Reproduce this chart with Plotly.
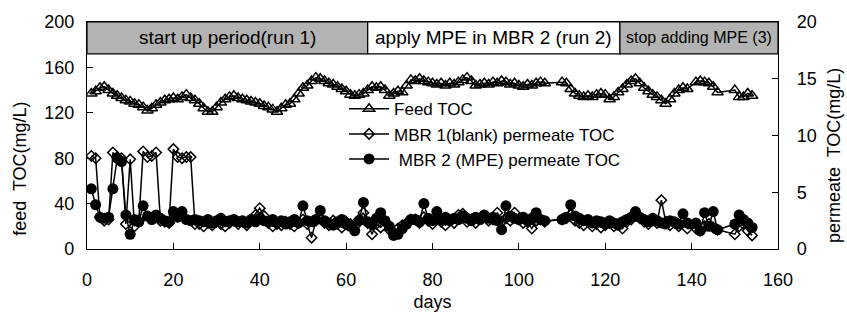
import plotly.graph_objects as go

# sampling days
days = list(range(1, 107)) + list(range(110, 140)) + list(range(141, 147)) + list(range(150, 155))

feed_toc = [
    137, 139, 142, 143, 140, 137, 135, 133, 131, 130,
    128, 127, 125, 122, 124, 127, 129, 131, 132, 133,
    132, 134, 136, 133, 131, 128, 124, 121, 121, 125,
    129, 132, 134, 135, 133, 132, 131, 130, 129, 128,
    126, 125, 123, 121, 124, 127, 128, 132, 137, 142,
    144, 148, 151, 150, 148, 146, 145, 143, 141, 139,
    136, 135, 136, 137, 140, 143, 142, 143, 140, 135,
    137, 139, 138, 144, 149, 148, 150, 148, 147, 146,
    145, 146, 144, 146, 145, 147, 149, 151, 148, 144,
    145, 146, 145, 147, 146, 148, 147, 145, 146, 144,
    143, 145, 144, 146, 147, 146,
    147, 146, 141, 137, 135, 134, 135, 134, 136, 137,
    136, 132, 134, 138, 141, 145, 148, 150, 146, 142,
    139, 136, 134, 131, 128, 132, 137, 140, 142, 141,
    147, 148, 147, 146, 143, 138,
    140, 134, 134, 137, 135,
]

mbr1_toc = [
    8.2, 8.0, 2.8, 2.5, 2.6, 8.5, 8.1, 8.0, 2.2, 7.9,
    2.0, 2.5, 8.6, 8.1, 8.2, 8.5, 2.5, 2.4, 2.3, 8.8,
    8.1, 8.0, 8.1, 8.1, 2.2,
    2.2, 2.0, 2.3, 2.1, 2.4, 2.2, 2.0, 2.3, 2.5, 2.2,
    2.4, 2.1, 2.6, 3.0, 3.6, 2.9, 2.3, 2.0, 2.2, 2.1,
    2.4, 2.2, 2.0, 2.3, 2.6, 2.2, 1.0, 2.5, 2.7, 2.3,
    2.1, 2.5, 2.2, 1.9, 2.4, 2.2, 2.0, 2.6, 3.2, 2.3,
    1.3, 2.2, 1.9, 2.4, 1.7, 1.5, 1.8, 2.1, 2.3, 2.6,
    2.6, 2.3, 2.8, 2.5, 2.2, 2.7, 2.4, 2.1, 2.5, 2.3,
    3.0, 3.1, 2.4, 2.6, 2.3, 2.7, 2.9, 2.5, 2.6, 3.2,
    2.4, 2.7, 2.5, 3.2, 2.6, 2.3, 2.4, 1.8, 2.5, 2.6, 2.4,
    2.6, 2.7, 3.0, 2.5, 2.3, 2.1, 2.4, 2.0, 2.2, 1.9,
    2.1, 2.3, 2.0, 2.2, 1.8, 2.4, 2.6, 2.9, 2.7, 2.4,
    2.2, 2.5, 2.3, 4.3, 2.4, 2.1, 2.3, 2.0, 2.4, 1.8,
    1.8, 1.6, 2.0, 2.2, 1.9, 1.7,
    1.3, 2.0, 2.2, 1.6, 1.2,
]

mbr2_toc = [
    5.3, 3.9, 2.8, 2.7, 2.8, 5.3, 8.0, 7.7, 3.0, 1.3,
    2.6, 2.4, 3.8, 2.9, 2.6, 3.0, 2.7, 2.5, 2.4, 3.3,
    2.8, 3.3, 2.6, 2.5, 2.6,
    2.5, 2.4, 2.6, 2.3, 2.5, 2.7, 2.4, 2.5, 2.6, 2.4,
    2.5, 2.3, 2.6, 2.4, 2.7, 2.5, 2.4, 2.6, 2.3, 2.5,
    2.2, 2.4, 2.6, 2.3, 3.8, 2.5, 2.4, 2.6, 3.4, 2.5,
    2.3, 2.1, 2.4, 2.6, 2.2, 2.0, 1.6, 2.5, 4.1, 2.4,
    2.2, 2.7, 3.2, 2.5, 2.0, 1.2, 1.3, 1.8, 2.2, 2.6,
    2.6, 2.4, 4.0, 2.7, 2.5, 3.3, 2.6, 2.8, 2.5, 2.7,
    2.6, 2.9, 2.7, 2.5, 2.8, 2.6, 3.0, 2.7, 2.8, 2.5,
    1.7, 3.8, 2.9, 2.7, 2.6, 2.8, 2.5, 2.7, 3.2, 2.6, 2.5,
    2.6, 2.8, 3.9, 2.9, 2.7, 2.5, 2.6, 2.3, 2.5, 2.4,
    2.2, 2.5, 2.3, 2.1, 2.4, 2.6, 2.8, 3.3, 2.8, 2.6,
    2.4, 2.7, 2.5, 2.3, 2.2, 2.5, 2.4, 2.2, 3.1, 2.3,
    2.3, 1.6, 3.2, 2.0, 3.3, 1.7,
    2.2, 3.0, 2.6, 2.3, 1.9,
]

# period bands: (start day, end day, label, fill, font size)
periods = [
    (0, 65, "start up period(run 1)", "#b3b3b3", 19),
    (65, 123.4, "apply MPE in MBR 2 (run 2)", "#ffffff", 19),
    (123.4, 160, "stop adding MPE (3)", "#b3b3b3", 16),
]
band_bottom, band_top = 172, 200

x_ticks = [0, 20, 40, 60, 80, 100, 120, 140, 160]
left_ticks = [0, 40, 80, 120, 160, 200]
right_ticks = [0, 5, 10, 15, 20]

FONT = "Liberation Sans, Arial, sans-serif"

fig = go.Figure()
fig.add_trace(go.Scatter(
    x=days, y=feed_toc, name="Feed TOC", mode="lines+markers", legendgroup="a",
    line=dict(color="black", width=1.5),
    marker=dict(symbol="triangle-up-open", size=10, color="black", line=dict(width=1.5)),
))
fig.add_trace(go.Scatter(
    x=days, y=mbr1_toc, name="MBR 1(blank) permeate TOC", mode="lines+markers", yaxis="y2",
    legendgroup="b",
    line=dict(color="black", width=1.5),
    marker=dict(symbol="diamond-open", size=8, color="black", line=dict(width=1.5)),
))
fig.add_trace(go.Scatter(
    x=days, y=mbr2_toc, name=" MBR 2 (MPE) permeate TOC", mode="lines+markers", yaxis="y2",
    legendgroup="c",
    line=dict(color="black", width=1.5),
    marker=dict(symbol="circle", size=11, color="black"),
))

shapes = []
annotations = []
for x0, x1, label, fill, fs in periods:
    shapes.append(dict(type="rect", xref="x", yref="y", x0=x0, x1=x1, y0=band_bottom, y1=band_top,
                       fillcolor=fill, line=dict(color="black", width=1.2), layer="above"))
    annotations.append(dict(x=(x0 + x1) / 2, y=(band_bottom + band_top) / 2, xref="x", yref="y",
                            text=label, showarrow=False, font=dict(size=fs, color="black", family=FONT)))

# axis titles as rotated annotations (plot area: x 87..778, y 20..252 px)
annotations.append(dict(xref="paper", yref="paper", x=(20 - 87) / 691, y=(252 - 170) / 232,
                        xanchor="center", yanchor="middle",
                        text="feed  TOC(mg/L)", showarrow=False, textangle=-90,
                        font=dict(size=18, family=FONT, color="black")))
annotations.append(dict(xref="paper", yref="paper", x=(834 - 87) / 691, y=(252 - 157) / 232,
                        xanchor="center", yanchor="middle",
                        text="permeate  TOC(mg/L)", showarrow=False, textangle=-90,
                        font=dict(size=18, family=FONT, color="black")))

fig.update_layout(
    width=847, height=320,
    margin=dict(l=87, r=69, t=20, b=68),
    paper_bgcolor="white", plot_bgcolor="white",
    font=dict(family=FONT, size=18, color="black"),
    showlegend=True,
    legend=dict(x=0.372, y=0.695, xanchor="left", yanchor="top", bgcolor="rgba(0,0,0,0)",
                font=dict(size=17, family=FONT), tracegroupgap=0, itemwidth=40),
    xaxis=dict(range=[0, 160], tickvals=x_ticks, ticks="inside", ticklen=6, tickcolor="black",
               showline=True, linecolor="black", linewidth=1.2, mirror=True, showgrid=False,
               zeroline=False, ticklabelstandoff=14,
               title=dict(text="days", font=dict(size=18), standoff=6)),
    yaxis=dict(range=[0, 200], tickvals=left_ticks, ticks="inside", ticklen=6, tickcolor="black",
               showline=True, linecolor="black", linewidth=1.2, showgrid=False, zeroline=False,
               ticklabelstandoff=8),
    yaxis2=dict(range=[0, 20], tickvals=right_ticks, ticks="inside", ticklen=6, tickcolor="black",
                overlaying="y", side="right", showline=True, linecolor="black", linewidth=1.2,
                showgrid=False, zeroline=False, ticklabelstandoff=14),
    shapes=shapes,
    annotations=annotations,
)

fig.write_html("out.html")
